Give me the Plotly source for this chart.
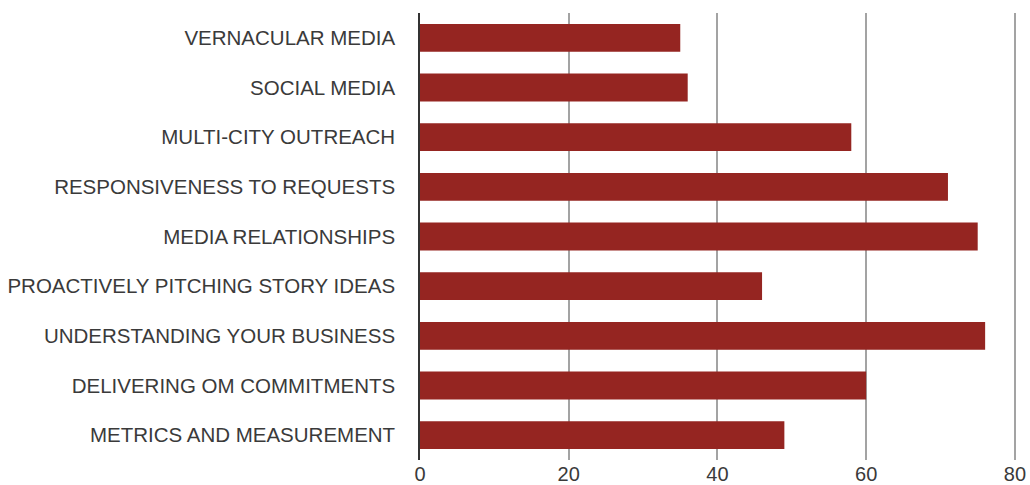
import plotly.graph_objects as go

# Survey categories, top to bottom
categories = [
    "VERNACULAR MEDIA",
    "SOCIAL MEDIA",
    "MULTI-CITY OUTREACH",
    "RESPONSIVENESS TO REQUESTS",
    "MEDIA RELATIONSHIPS",
    "PROACTIVELY PITCHING STORY IDEAS",
    "UNDERSTANDING YOUR BUSINESS",
    "DELIVERING OM COMMITMENTS",
    "METRICS AND MEASUREMENT",
]

# Scores per category
scores = [35, 36, 58, 71, 75, 46, 76, 60, 49]

x_ticks = [0, 20, 40, 60, 80]

BAR_COLOR = "#952521"
TEXT_COLOR = "#3a3a3a"
FONT = "Liberation Sans, Arial, sans-serif"

fig = go.Figure(
    go.Bar(
        x=scores,
        y=categories,
        orientation="h",
        marker=dict(color=BAR_COLOR, line=dict(width=0)),
        hoverinfo="x+y",
    )
)

fig.update_layout(
    width=1030,
    height=485,
    margin=dict(l=420, r=14, t=13, b=25),
    paper_bgcolor="white",
    plot_bgcolor="white",
    bargap=0.44,
    showlegend=False,
    font=dict(family=FONT, size=20.5, color=TEXT_COLOR),
)

fig.update_xaxes(
    range=[0, 80.15],
    tickvals=x_ticks,
    ticktext=[str(t) for t in x_ticks],
    showgrid=True,
    gridcolor="#a3a3a3",
    gridwidth=1.5,
    zeroline=False,
    showline=False,
    ticks="",
    automargin=False,
    tickfont=dict(family=FONT, size=20, color=TEXT_COLOR),
    ticklabelstandoff=0,
)

fig.update_yaxes(
    autorange="reversed",
    showgrid=False,
    showline=True,
    linecolor="#333333",
    linewidth=1.5,
    ticks="",
    automargin=False,
    tickfont=dict(family=FONT, size=20.5, color=TEXT_COLOR),
    ticklabelstandoff=19,
)

fig.write_html("out.html")
